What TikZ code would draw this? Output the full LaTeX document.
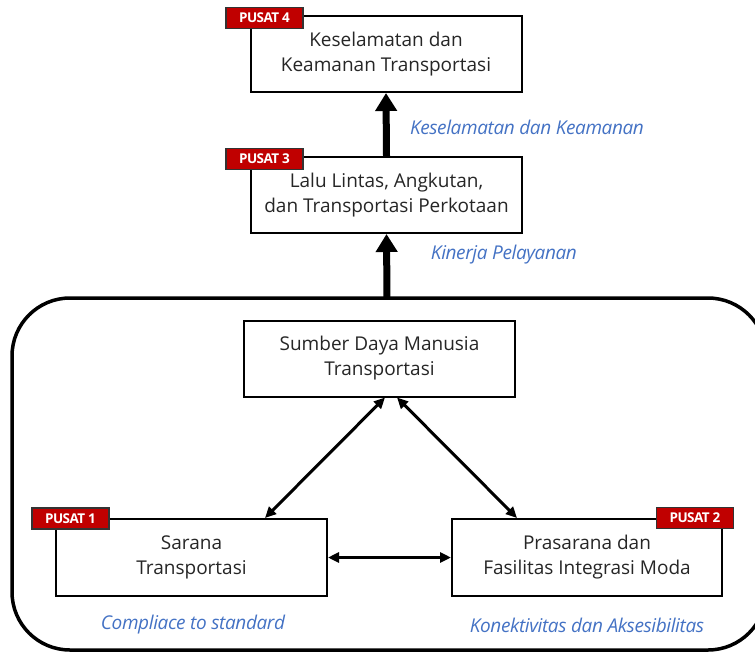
\documentclass[tikz,border=0pt]{standalone}
\usepackage{fontspec}
\setmainfont{Open Sans}
\newfontfamily\tagfont[LetterSpace=-4]{Open Sans}
\newfontfamily\labfont[LetterSpace=-2]{Open Sans}
\usetikzlibrary{arrows.meta,calc}
\definecolor{tagred}{HTML}{C00000}
\definecolor{labblue}{HTML}{4472C4}
\definecolor{txt}{HTML}{262626}
\tikzset{
  box/.style={draw=black,line width=2pt,fill=white,minimum width=#1,minimum height=76pt,align=center,
    font=\fontsize{19}{25}\selectfont,text=txt,inner sep=0pt},
  box/.default=271pt,
  tag/.style={draw=black!80,line width=1.3pt,fill=tagred,text=white,minimum width=77pt,minimum height=21pt,
    inner sep=0pt,font=\tagfont\fontsize{13.5}{14}\selectfont\bfseries},
  lab/.style={text=labblue,font=\labfont\fontsize{19}{20}\selectfont\itshape,inner sep=0pt},
  big/.style={-{Triangle[length=18pt,width=21pt]},line width=7pt},
  dbl/.style={{Triangle[length=11pt,width=10pt]}-{Triangle[length=11pt,width=10pt]},line width=3pt}
}
\begin{document}
\begin{tikzpicture}[x=1pt,y=-1pt]
\useasboundingbox (0,0) rectangle (755,653);
\clip (0,0) rectangle (755,653);
% big rounded container
\draw[line width=3.5pt,rounded corners=58pt] (12,298) rectangle (766,650);
\coordinate (bt) at (387,298);
% boxes
\node[box] (p4) at (386,54) {Keselamatan dan\\Keamanan Transportasi};
\node[box] (p3) at (386.5,195) {Lalu Lintas, Angkutan,\\dan Transportasi Perkotaan};
\node[box] (sdm) at (379.5,358.5) {Sumber Daya Manusia\\Transportasi};
\node[box,minimum height=77pt] (sar) at (191.5,557.5) {Sarana\\Transportasi};
\node[box=270pt,minimum height=77pt] (pra) at (587,557.5) {Prasarana dan\\Fasilitas Integrasi Moda};
% tags
\node[tag] (t4) at (264.5,18) {PUSAT 4};
\node[tag] (t3) at (264.5,159) {PUSAT 3};
\node[tag] (t1) at (70.5,518.5) {PUSAT 1};
\node[tag] (t2) at (695,518) {PUSAT 2};
% arrows
\draw[big] (p3.north) -- (p4.south);
\draw[big] (bt) -- (p3.south);
\draw[dbl] ([xshift=5.5pt]sdm.south) -- ([xshift=73.5pt]sar.north);
\draw[dbl] ([xshift=17.5pt]sdm.south) -- ([xshift=-70pt]pra.north);
\draw[dbl] (sar.east) -- (pra.west);
% labels
\node[lab] (l1) at (527,127) {Keselamatan dan Keamanan};
\node[lab] (l2) at (504,255) {Kinerja Pelayanan};
\node[lab] (l3) at (193,625) {Compliace to standard};
\node[lab] (l4) at (587,625) {Konektivitas dan Aksesibilitas};
\end{tikzpicture}
\end{document}
